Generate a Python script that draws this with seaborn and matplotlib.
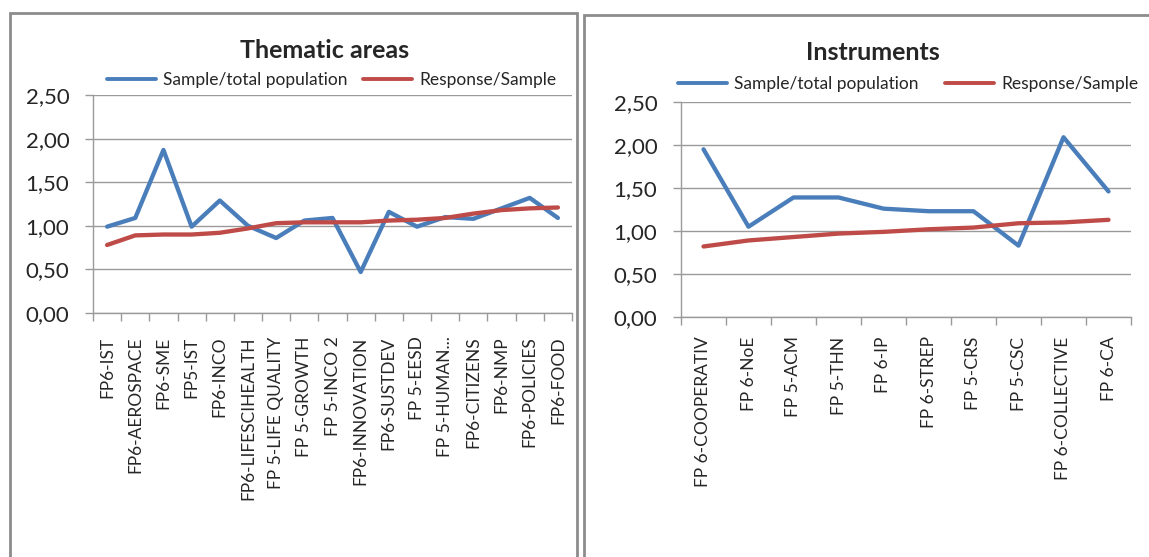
import matplotlib
matplotlib.use("Agg")
import matplotlib.pyplot as plt
import numpy as np
import pandas as pd
import seaborn as sns
from matplotlib.patches import Rectangle
from matplotlib.ticker import FixedLocator, NullFormatter

# ---- data
thematic_labels = ["FP6-IST", "FP6-AEROSPACE", "FP6-SME", "FP5-IST", "FP6-INCO",
                   "FP6-LIFESCIHEALTH", "FP 5-LIFE QUALITY", "FP 5-GROWTH", "FP 5-INCO 2",
                   "FP6-INNOVATION", "FP6-SUSTDEV", "FP 5-EESD", "FP 5-HUMAN...",
                   "FP6-CITIZENS", "FP6-NMP", "FP6-POLICIES", "FP6-FOOD"]
thematic_sample = [0.99, 1.09, 1.87, 0.99, 1.29, 1.00, 0.86, 1.06, 1.09,
                   0.47, 1.16, 0.99, 1.10, 1.08, 1.20, 1.32, 1.09]
thematic_response = [0.78, 0.89, 0.90, 0.90, 0.92, 0.97, 1.03, 1.04, 1.04,
                     1.04, 1.06, 1.07, 1.09, 1.14, 1.18, 1.20, 1.21]

instr_labels = ["FP 6-COOPERATIV", "FP 6-NoE", "FP 5-ACM", "FP 5-THN", "FP 6-IP",
                "FP 6-STREP", "FP 5-CRS", "FP 5-CSC", "FP 6-COLLECTIVE", "FP 6-CA"]
instr_sample = [1.95, 1.05, 1.39, 1.39, 1.26, 1.23, 1.23, 0.83, 2.09, 1.46]
instr_response = [0.82, 0.89, 0.93, 0.97, 0.99, 1.02, 1.04, 1.09, 1.10, 1.13]

series_names = ["Sample/total population", "Response/Sample"]
colors = ["#4a7ebb", "#be4b48"]

sns.set_style("white")
plt.rcParams["font.family"] = ["Lato", "DejaVu Sans"]

W, H = 1149, 557
fig = plt.figure(figsize=(W / 100, H / 100), dpi=100)


def px_box(x0, y0, x1, y1):
    # pixel box (top-left origin) -> figure fraction [l, b, w, h]
    return [x0 / W, 1 - y1 / H, (x1 - x0) / W, (y1 - y0) / H]


def draw_panel(box, labels, sample, response, title, title_xy, leg_xy, colspace, xpad):
    ax = fig.add_axes(px_box(*box))
    n = len(labels)
    df = pd.DataFrame({
        "pos": list(range(n)) * 2,
        "value": sample + response,
        "series": [series_names[0]] * n + [series_names[1]] * n,
    })
    sns.lineplot(data=df, x="pos", y="value", hue="series", palette=colors,
                 linewidth=3.1, ax=ax, legend=True)
    ax.set_xlim(-0.5, n - 0.5)
    ax.set_ylim(0, 2.5)
    ticks = np.arange(0, 2.51, 0.5)
    ax.set_yticks(ticks)
    ax.set_yticklabels([f"{v:.2f}".replace(".", ",") for v in ticks], fontsize=16)
    ax.set_xticks(range(n))
    ax.set_xticklabels(labels, rotation=90, fontsize=12.5)
    ax.xaxis.set_minor_locator(FixedLocator(np.arange(-0.5, n, 1.0)))
    ax.xaxis.set_minor_formatter(NullFormatter())
    ax.tick_params(axis="x", which="major", length=0, pad=xpad)
    ax.tick_params(axis="x", which="minor", length=6, width=1, color="#9a9a9a",
                   direction="out", bottom=True)
    ax.tick_params(axis="y", length=6, width=1, color="#9a9a9a", pad=11, left=True)
    ax.grid(axis="y", color="#9a9a9a", linewidth=1)
    ax.set_xlabel("")
    ax.set_ylabel("")
    for s in ["top", "right"]:
        ax.spines[s].set_visible(False)
    for s in ["left", "bottom"]:
        ax.spines[s].set_color("#9a9a9a")
        ax.spines[s].set_linewidth(1)
    ax.set_axisbelow(True)
    leg = ax.legend(ncol=2, frameon=False, fontsize=12.5, handlelength=2.85,
                    handletextpad=0.4, columnspacing=colspace,
                    loc="center left",
                    bbox_to_anchor=(leg_xy[0] / W, 1 - leg_xy[1] / H),
                    bbox_transform=fig.transFigure, borderpad=0, borderaxespad=0)
    for line in leg.get_lines():
        line.set_linewidth(2.8)
    fig.text(title_xy[0] / W, 1 - title_xy[1] / H, title, ha="center", va="center",
             fontsize=18, fontweight="bold")
    return ax


draw_panel((93, 95, 572, 313), thematic_labels, thematic_sample, thematic_response,
           "Thematic areas", (325, 50), (107, 80), 0.85, 17)
draw_panel((681, 102, 1131, 317), instr_labels, instr_sample, instr_response,
           "Instruments", (873, 53), (678, 84), 1.5, 14)

# panel frames
for x0, y0, x1, y1 in [(10, 13, 577, 570), (584, 15, 1160, 570)]:
    fig.patches.append(Rectangle((x0 / W, 1 - y1 / H), (x1 - x0) / W, (y1 - y0) / H,
                                 transform=fig.transFigure, fill=False,
                                 edgecolor="#8c8c8c", linewidth=2))

fig.savefig("out.png", dpi=100)
